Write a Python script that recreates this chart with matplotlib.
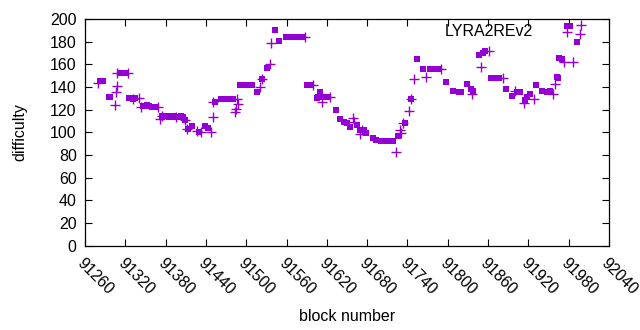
import matplotlib
matplotlib.use("Agg")
import matplotlib.pyplot as plt

# square-marker points (block, difficulty)
sq_blocks = [91283, 91287, 91295, 91297,
             91313, 91315, 91317, 91319, 91320,
             91326, 91328, 91330, 91332, 91334, 91331,
             91347, 91350, 91353, 91356, 91359, 91362, 91364, 91352,
             91375, 91378, 91381, 91384, 91387, 91390, 91391,
             91385, 91388, 91392, 91395, 91398, 91402, 91406, 91403, 91409,
             91413, 91420, 91429, 91439, 91443, 91453,
             91462, 91465, 91468, 91471, 91474, 91477, 91480,
             91491, 91494, 91497, 91500, 91503, 91506, 91508,
             91516, 91524, 91531, 91543, 91549,
             91559, 91562, 91565, 91568, 91571, 91574, 91577, 91580, 91583,
             91590, 91592, 91595, 91597,
             91605, 91607, 91610, 91612, 91615, 91618, 91620, 91622,
             91633, 91640, 91645, 91650, 91654, 91665, 91669, 91675, 91679,
             91688, 91693,
             91700, 91703, 91706, 91709, 91712, 91715, 91718,
             91726, 91736, 91746, 91754, 91763,
             91774, 91777, 91780, 91783, 91785, 91787,
             91798, 91808, 91817, 91820, 91828, 91834, 91838,
             91846, 91852, 91855,
             91865, 91868, 91871, 91874, 91877,
             91887, 91895, 91903, 91907, 91915, 91918, 91922,
             91932, 91940, 91947, 91952, 91962, 91964, 91966, 91970,
             91978, 91980, 91982, 91992]
sq_values = [145, 145, 131, 131,
             152, 152, 152, 152, 152,
             130.5, 130.5, 130.5, 130.5, 130.5, 129,
             123, 123, 123, 123, 122.5, 122.5, 122.5, 124,
             114.6, 114.6, 114.6, 114.6, 114.6, 114.6, 114.6,
             113.2, 113.2, 113.2, 113.2, 113.2, 113.2, 113.2, 114.6, 110.8,
             102.6, 105.8, 100.5, 105.8, 103.5, 126.4,
             129, 129, 129, 129, 129, 129, 129,
             141.7, 141.7, 141.7, 141.7, 141.7, 141.7, 141.7,
             135.3, 147, 157, 190.2, 180.8,
             183.8, 183.8, 183.8, 183.8, 183.8, 183.8, 183.8, 183.8, 183.8,
             141.4, 141.4, 141.4, 141.4,
             130, 131.1, 135.3, 131.1, 131.1, 131.1, 131.1, 131.1,
             119.4, 111.4, 109.5, 107.9, 105, 106.4, 102, 102, 99.6,
             95.2, 93.2,
             92, 92, 92, 92, 92, 92, 92,
             96.7, 107.9, 129.1, 164.6, 155.8,
             155.6, 155.6, 155.6, 155.6, 155.6, 155.6,
             144.4, 136.7, 135.3, 135.8, 142.6, 138.2, 136.7,
             168.2, 169.7, 171.7,
             148.2, 148.2, 148.2, 148.2, 148.2,
             137.9, 132, 135.3, 135.3, 128.5, 131.4, 133.5,
             141.7, 136.7, 135.8, 136.4, 149, 148.2, 165.8, 164.6,
             193.8, 193.8, 193.8, 179.4]

# plus-marker points (block, difficulty)
pl_blocks = [91280, 91304, 91306, 91307, 91308, 91324, 91340, 91331,
             91343, 91369, 91372, 91374, 91395, 91409, 91412, 91427, 91432,
             91447, 91450, 91451, 91483, 91485, 91486, 91488, 91521,
             91524, 91536, 91537, 91588, 91613, 91625, 91600,
             91659, 91661, 91670, 91672, 91723, 91729, 91731, 91734,
             91742, 91746, 91750, 91768, 91790, 91836, 91850, 91862,
             91882, 91900, 91913, 91929, 91957, 91959, 91973,
             91977, 91987, 91997, 91999]
pl_values = [143.2, 124, 135.3, 140.8, 152, 152, 130.5, 129,
             122.5, 122.5, 112, 114.6, 113.2, 110.8, 102.6, 101, 100.5,
             100.5, 113.2, 126.4, 117.6, 121, 129, 124.7, 140.2,
             147, 160, 178.5, 183.8, 127, 131.1, 141.4,
             112.3, 109, 98.5, 102, 82.6, 102, 99, 107.9,
             118.8, 129.1, 146.7, 149, 155.6, 133.5, 157.3, 171.7,
             148.2, 136.4, 125.6, 129.1, 133.5, 142.3, 161.7,
             188.7, 161.7, 186.7, 194.6]

x_ticks = list(range(91260, 92041, 60))
y_ticks = list(range(0, 201, 20))

color = "#9400D3"
plt.rcParams['font.family'] = ['Liberation Sans', 'DejaVu Sans']
FS = 11.5

fig = plt.figure(figsize=(6.4, 3.3), dpi=100)
ax = fig.add_axes([85/640, 1-245.6/330, (609-85)/640, (245.6-19)/330])

ax.plot(sq_blocks, sq_values, linestyle='none', marker='s', markersize=5.0,
        color=color, markeredgewidth=0)
ax.plot(pl_blocks, pl_values, linestyle='none', marker='+', markersize=6.5,
        color=color, markeredgewidth=1.0)

ax.set_xlim(91260, 92040)
ax.set_ylim(0, 200)
ax.set_xticks(x_ticks)
ax.set_yticks(y_ticks)
ax.set_xticklabels([str(t) for t in x_ticks], rotation=-45, ha='left',
                   va='top', rotation_mode='anchor', fontsize=FS)
ax.tick_params(axis='y', labelsize=FS, pad=6)
ax.tick_params(direction='in', top=True, right=True, length=5, width=0.8)
ax.tick_params(axis='x', pad=7)
for s in ax.spines.values():
    s.set_linewidth(0.9)

ax.set_xlabel('block number', fontsize=FS, labelpad=8)
ax.set_ylabel('difficulty', fontsize=FS, labelpad=16)
ax.text(0.687, 0.947, 'LYRA2REv2', transform=ax.transAxes, fontsize=FS,
        ha='left', va='center')

fig.savefig('out.png', dpi=100)
